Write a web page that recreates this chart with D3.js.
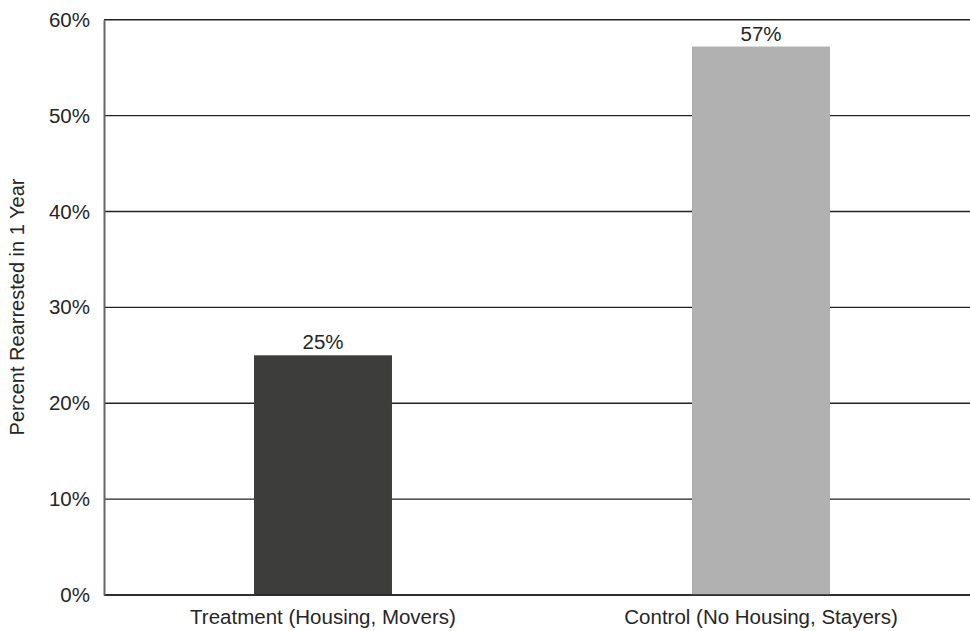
<!DOCTYPE html>
<html>
<head>
<meta charset="utf-8">
<script src="https://cdn.jsdelivr.net/npm/d3@7"></script>
<style>
  html, body { margin: 0; padding: 0; background: #fff; }
  svg { display: block; }
  text { font-family: "Liberation Sans", Arial, Helvetica, sans-serif; fill: #262626; }
</style>
</head>
<body>
<svg id="chart" width="970" height="631"></svg>
<script>
const categories = ["Treatment (Housing, Movers)", "Control (No Housing, Stayers)"];
const values = [25, 57.2];
const labels = ["25%", "57%"];
const barColors = ["#3d3d3b", "#b1b1b1"];
const yTicks = [0, 10, 20, 30, 40, 50, 60];
const yTitle = "Percent Rearrested in 1 Year";

(function () {
const svg = d3.select("#chart");
const mLeft = 104, mRight = 980, mTop = 19.7, mBottom = 595;

const x = d3.scaleBand().domain(categories).range([mLeft, mRight])
  .paddingInner(0.685).paddingOuter(0.3425);
const y = d3.scaleLinear().domain([0, 60]).range([mBottom, mTop]);

// gridlines
svg.append("g").selectAll("line").data(yTicks).join("line")
  .attr("x1", mLeft).attr("x2", 970)
  .attr("y1", d => y(d)).attr("y2", d => y(d))
  .attr("stroke", "#222").attr("stroke-width", 1.4);

// bars
svg.append("g").selectAll("rect").data(values).join("rect")
  .attr("x", (d, i) => x(categories[i]))
  .attr("width", x.bandwidth())
  .attr("y", d => y(d))
  .attr("height", d => y(0) - y(d))
  .attr("fill", (d, i) => barColors[i]);

// baseline on top
svg.append("line").attr("x1", mLeft).attr("x2", 970)
  .attr("y1", y(0)).attr("y2", y(0))
  .attr("stroke", "#222").attr("stroke-width", 1.4);

// y axis
const yAxis = d3.axisLeft(y).tickValues(yTicks).tickFormat(d => d + "%").tickSize(0).tickPadding(14);
const gy = svg.append("g").attr("transform", `translate(${mLeft},0)`).call(yAxis);
gy.select(".domain").attr("stroke", "#666").attr("stroke-width", 2);
gy.selectAll("text").style("font-size", "20.5px").attr("fill", "#262626");

// x axis labels
const xAxis = d3.axisBottom(x).tickSize(0).tickPadding(14);
const gx = svg.append("g").attr("transform", `translate(0,${mBottom})`).call(xAxis);
gx.select(".domain").remove();
gx.selectAll("text").style("font-size", "20.5px").attr("fill", "#262626");

// value labels
svg.append("g").selectAll("text").data(values).join("text")
  .attr("x", (d, i) => x(categories[i]) + x.bandwidth() / 2)
  .attr("y", d => y(d) - 6)
  .attr("text-anchor", "middle")
  .style("font-size", "20.5px")
  .text((d, i) => labels[i]);

// y title
svg.append("text")
  .attr("transform", `translate(24, ${(172 + 442) / 2}) rotate(-90)`)
  .attr("text-anchor", "middle")
  .style("font-size", "20px")
  .text(yTitle);
})();
</script>
</body>
</html>
